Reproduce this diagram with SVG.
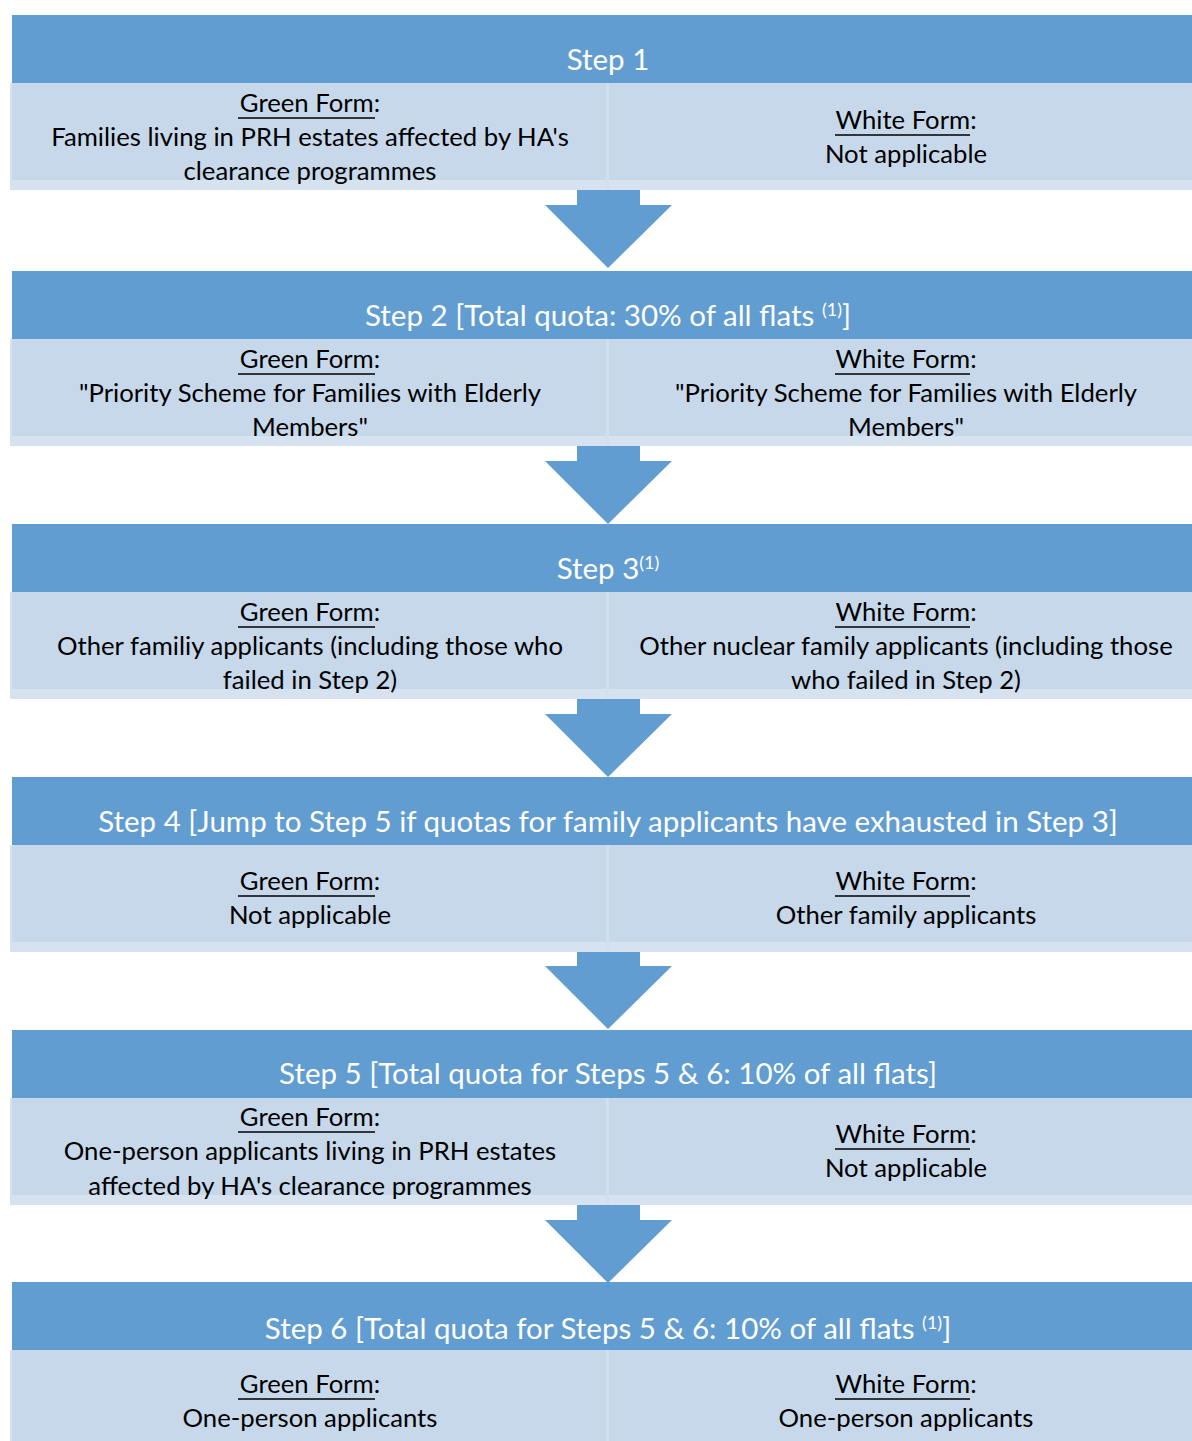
<svg xmlns="http://www.w3.org/2000/svg" width="1192" height="1441" viewBox="0 0 1192 1441">
<style>
.hdr{fill:#619DD1}
.strip{fill:#D6E2EF}
.body{fill:#C6D8EA}
.div{fill:#D2E0EE}
.arrow{fill:#619DD1}
text{font-family:Lato,"Open Sans",sans-serif}
.ht{fill:#fff;font-size:29.5px;text-anchor:middle}
.bt{fill:#000;font-size:25.7px;text-anchor:middle}
.sup{font-size:18px}
.ul{stroke:#000;stroke-width:1.3}
</style>
<defs>
<g id="panel">
<rect class="strip" x="10" y="68" width="1182" height="107"/>
<rect class="body" x="12" y="68" width="1180" height="97"/>
<rect class="hdr" x="12" y="0" width="1180" height="68"/>
<rect class="div" x="606" y="68" width="3" height="107"/>
</g>
<polygon id="arr" class="arrow" points="577,0 640,0 640,15 672,15 608,78 545,15 577,15"/>
</defs>
<g id="connectors">
<use href="#arr" x="0" y="190"/>
<use href="#arr" x="0" y="446"/>
<use href="#arr" x="0" y="699"/>
<use href="#arr" x="0" y="951"/>
<use href="#arr" x="0" y="1205"/>
</g>
<g id="step1">
<use href="#panel" x="0" y="15"/>
<text class="ht" x="608" y="70">Step 1</text>
<text class="bt" x="310" y="112">Green Form:</text>
<line class="ul" x1="238" y1="118" x2="375" y2="118"/>
<text class="bt" x="310" y="146">Families living in PRH estates affected by HA's</text>
<text class="bt" x="310" y="180">clearance programmes</text>
<text class="bt" x="906" y="129">White Form:</text>
<line class="ul" x1="835" y1="135" x2="970" y2="135"/>
<text class="bt" x="906" y="163">Not applicable</text>
</g>
<g id="step2">
<use href="#panel" x="0" y="271"/>
<text class="ht" x="608" y="326">Step 2 [Total quota: 30% of all flats <tspan class="sup" dy="-10">(1)</tspan><tspan dy="10">]</tspan></text>
<text class="bt" x="310" y="368">Green Form:</text>
<line class="ul" x1="238" y1="374" x2="375" y2="374"/>
<text class="bt" x="310" y="402">"Priority Scheme for Families with Elderly</text>
<text class="bt" x="310" y="436">Members"</text>
<text class="bt" x="906" y="368">White Form:</text>
<line class="ul" x1="835" y1="374" x2="970" y2="374"/>
<text class="bt" x="906" y="402">"Priority Scheme for Families with Elderly</text>
<text class="bt" x="906" y="436">Members"</text>
</g>
<g id="step3">
<use href="#panel" x="0" y="524"/>
<text class="ht" x="608" y="579">Step 3<tspan class="sup" dy="-10">(1)</tspan></text>
<text class="bt" x="310" y="621">Green Form:</text>
<line class="ul" x1="238" y1="627" x2="375" y2="627"/>
<text class="bt" x="310" y="655">Other familiy applicants (including those who</text>
<text class="bt" x="310" y="689">failed in Step 2)</text>
<text class="bt" x="906" y="621">White Form:</text>
<line class="ul" x1="835" y1="627" x2="970" y2="627"/>
<text class="bt" x="906" y="655">Other nuclear family applicants (including those</text>
<text class="bt" x="906" y="689">who failed in Step 2)</text>
</g>
<g id="step4">
<use href="#panel" x="0" y="777"/>
<text class="ht" x="608" y="832">Step 4 [Jump to Step 5 if quotas for family applicants have exhausted in Step 3]</text>
<text class="bt" x="310" y="890">Green Form:</text>
<line class="ul" x1="238" y1="896" x2="375" y2="896"/>
<text class="bt" x="310" y="924">Not applicable</text>
<text class="bt" x="906" y="890">White Form:</text>
<line class="ul" x1="835" y1="896" x2="970" y2="896"/>
<text class="bt" x="906" y="924">Other family applicants</text>
</g>
<g id="step5">
<use href="#panel" x="0" y="1030"/>
<text class="ht" x="608" y="1084">Step 5 [Total quota for Steps 5 &amp; 6: 10% of all flats]</text>
<text class="bt" x="310" y="1126">Green Form:</text>
<line class="ul" x1="238" y1="1132" x2="375" y2="1132"/>
<text class="bt" x="310" y="1160">One-person applicants living in PRH estates</text>
<text class="bt" x="310" y="1195">affected by HA's clearance programmes</text>
<text class="bt" x="906" y="1143">White Form:</text>
<line class="ul" x1="835" y1="1149" x2="970" y2="1149"/>
<text class="bt" x="906" y="1177">Not applicable</text>
</g>
<g id="step6">
<use href="#panel" x="0" y="1282"/>
<text class="ht" x="608" y="1339">Step 6 [Total quota for Steps 5 &amp; 6: 10% of all flats <tspan class="sup" dy="-10">(1)</tspan><tspan dy="10">]</tspan></text>
<text class="bt" x="310" y="1393">Green Form:</text>
<line class="ul" x1="238" y1="1399" x2="375" y2="1399"/>
<text class="bt" x="310" y="1427">One-person applicants</text>
<text class="bt" x="906" y="1393">White Form:</text>
<line class="ul" x1="835" y1="1399" x2="970" y2="1399"/>
<text class="bt" x="906" y="1427">One-person applicants</text>
</g>
</svg>
